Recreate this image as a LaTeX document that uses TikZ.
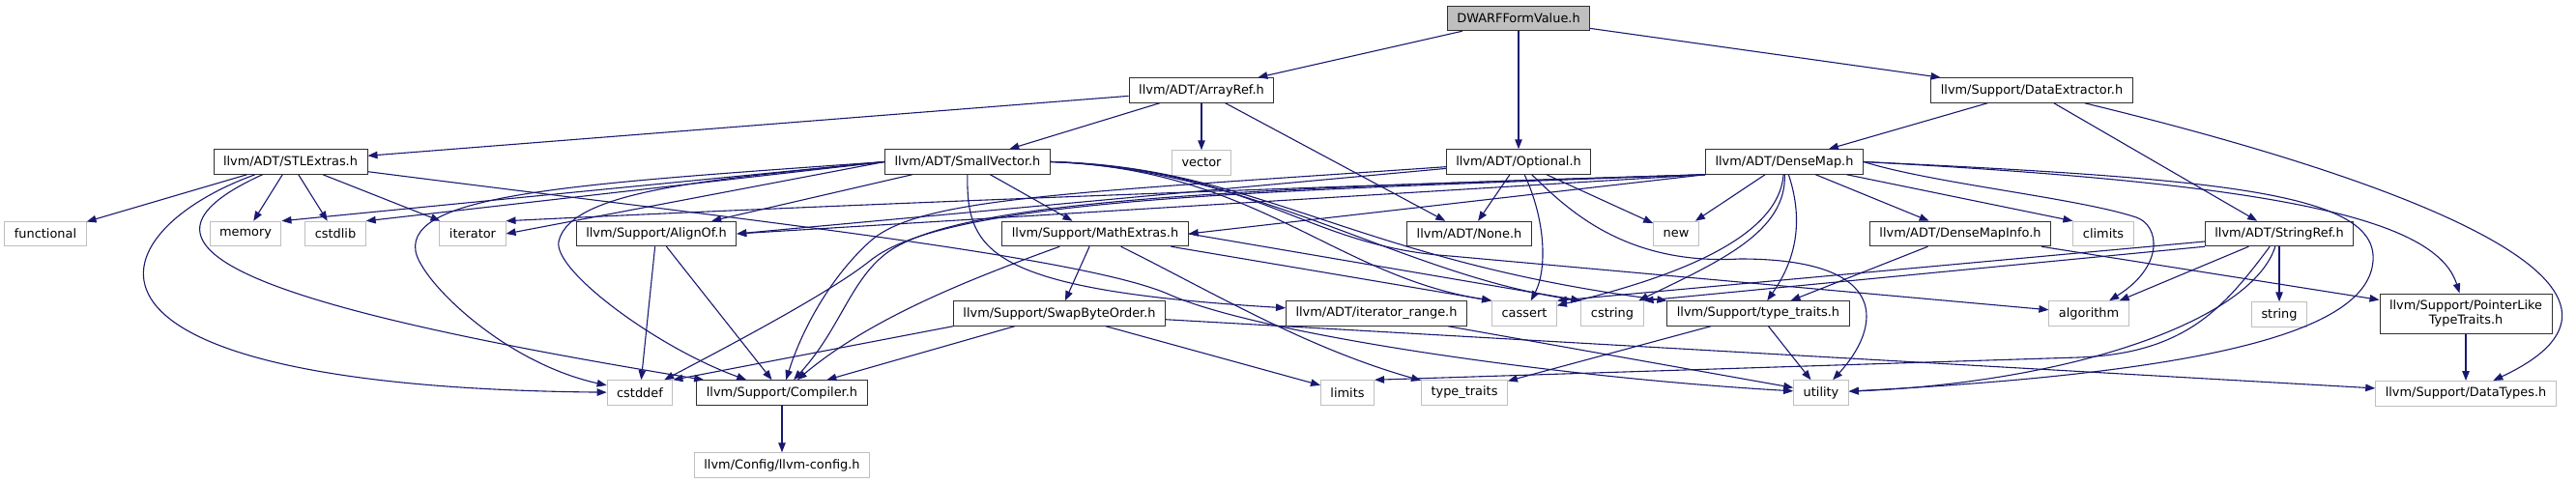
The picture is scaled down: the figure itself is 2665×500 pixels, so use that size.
\documentclass[tikz,border=0pt]{standalone}
\usepackage{fontspec}
\setmainfont{DejaVu Sans}
\usepackage{tikz}
\usetikzlibrary{arrows.meta,positioning}
\definecolor{DoxNavy}{HTML}{191970}
\definecolor{DoxGrey}{HTML}{BFBFBF}
\definecolor{DoxFrame}{HTML}{303030}
\tikzset{
  >={Triangle[length=10pt,width=7.5pt]},
  incl/.style={->,line width=1.1pt,draw=DoxNavy},
  filebox/.style={draw=DoxFrame,line width=1pt,fill=white,minimum height=25.5pt,
    inner xsep=10pt,inner ysep=0pt,font=\fontsize{12.9}{14.5}\selectfont},
  sysbox/.style={filebox,draw=DoxGrey},
  rootbox/.style={filebox,fill=DoxGrey}
}
\begin{document}
\begin{tikzpicture}[x=1pt,y=-1pt,node distance=48.5pt]
  \path[use as bounding box,fill=white] (0,0) rectangle (2665,500);
  \node[rootbox] (dwarf) at (1571,19) {DWARFFormValue.h};
  \node[filebox] (arrayref) at (1243,93.5) {llvm/ADT/ArrayRef.h};
  \node[filebox] (dataext) at (2102,93.5) {llvm/Support/DataExtractor.h};
  \node[filebox] (stlextras) at (300.5,167.5) {llvm/ADT/STLExtras.h};
  \node[filebox] (smallvec) at (1001,167.5) {llvm/ADT/SmallVector.h};
  \node[sysbox,below=of arrayref] (vector) {vector};
  \node[filebox] (optional) at (1571,167.5) {llvm/ADT/Optional.h};
  \node[filebox] (densemap) at (1846,167.5) {llvm/ADT/DenseMap.h};
  \node[sysbox] (functional) at (47,242) {functional};
  \node[sysbox] (memory) at (254,242) {memory};
  \node[sysbox] (cstdlib) at (347,242) {cstdlib};
  \node[sysbox] (iterator) at (489,242) {iterator};
  \node[filebox] (alignof) at (679,242) {llvm/Support/AlignOf.h};
  \node[filebox] (mathext) at (1133,242) {llvm/Support/MathExtras.h};
  \node[filebox] (none) at (1520,242) {llvm/ADT/None.h};
  \node[sysbox] (new) at (1734,242) {new};
  \node[filebox] (densemapinfo) at (2028,242) {llvm/ADT/DenseMapInfo.h};
  \node[sysbox] (climits) at (2176,242) {climits};
  \node[filebox] (stringref) at (2358,242) {llvm/ADT/StringRef.h};
  \node[filebox] (swapbyte) at (1096,324.5) {llvm/Support/SwapByteOrder.h};
  \node[filebox] (itrange) at (1424,324.5) {llvm/ADT/iterator\_range.h};
  \node[sysbox] (cassert) at (1577,324.5) {cassert};
  \node[sysbox] (cstring) at (1668,324.5) {cstring};
  \node[filebox] (typetraitsh) at (1819,324.5) {llvm/Support/type\_traits.h};
  \node[sysbox] (algorithm) at (2161,324.5) {algorithm};
  \node[sysbox,below=57pt of stringref] (string) {string};
  \node[filebox,minimum height=41pt,align=center] (pointerlike) at (2551,324.5) {llvm/Support/PointerLike\\TypeTraits.h};
  \node[sysbox] (cstddef) at (662,406.5) {cstddef};
  \node[filebox] (compiler) at (809,406.5) {llvm/Support/Compiler.h};
  \node[sysbox] (limits) at (1394,406.5) {limits};
  \node[sysbox] (typetraits) at (1515,406.5) {type\_traits};
  \node[sysbox] (utility) at (1884,406.5) {utility};
  \node[sysbox,below=of pointerlike] (datatypes) {llvm/Support/DataTypes.h};
  \node[sysbox,below=of compiler] (llvmconfig) {llvm/Config/llvm-config.h};
  \draw[incl] (dwarf) -- (arrayref);
  \draw[incl] (dwarf) -- (optional);
  \draw[incl] (dwarf) -- (dataext);
  \draw[incl] (arrayref) -- (stlextras);
  \draw[incl] (arrayref) -- (smallvec);
  \draw[incl] (arrayref) -- (vector);
  \draw[incl] (arrayref) -- (none);
  \draw[incl] (dataext) -- (densemap);
  \draw[incl] (dataext) -- (stringref);
  \draw[incl] (dataext) .. controls (2500,190) and (2780,300) .. (datatypes);
  \draw[incl] (stlextras) -- (functional);
  \draw[incl] (stlextras) -- (memory);
  \draw[incl] (stlextras) -- (cstdlib);
  \draw[incl] (stlextras) -- (iterator);
  \draw[incl] (stlextras) .. controls (100,240) and (30,400) .. (cstddef);
  \draw[incl] (stlextras) .. controls (120,250) and (220,310) .. (compiler);
  \draw[incl] (stlextras) .. controls (750,225) and (1120,265) .. (1210,305)
    .. controls (1300,345) and (1600,390) .. (utility);
  \draw[incl] (smallvec.west) -- (memory.north east);
  \draw[incl] (smallvec.west) -- (cstdlib.north east);
  \draw[incl] (smallvec.west) -- (iterator.east);
  \draw[incl] (smallvec.west) .. controls (600,190) and (420,200) .. (430,260)
    .. controls (435,290) and (520,375) .. (cstddef);
  \draw[incl] (smallvec.west) .. controls (750,185) and (590,195) .. (578,250)
    .. controls (572,280) and (680,360) .. (compiler);
  \draw[incl] (smallvec) -- (alignof);
  \draw[incl] (smallvec) -- (mathext);
  \draw[incl] (smallvec) .. controls (1000,260) and (1020,300) .. (itrange);
  \draw[incl] (smallvec.east) .. controls (1300,172) and (1400,270) .. (typetraitsh.north west);
  \draw[incl] (smallvec.east) .. controls (1300,175) and (1380,285) .. (cassert.north west);
  \draw[incl] (smallvec.east) .. controls (1300,175) and (1450,285) .. (cstring.north west);
  \draw[incl] (smallvec.east) .. controls (1300,175) and (1350,255) .. (1500,265) -- (algorithm);
  \draw[incl] (optional) -- (none);
  \draw[incl] (optional) -- (new);
  \draw[incl] (optional) .. controls (1600,230) and (1600,280) .. (cassert);
  \draw[incl] (optional) .. controls (1620,215) and (1680,275) .. (1800,268)
    .. controls (1960,268) and (1945,340) .. (utility);
  \draw[incl] (optional) -- (alignof.east);
  \draw[incl] (optional) .. controls (1100,200) and (950,205) .. (900,250)
    .. controls (860,286) and (830,340) .. (compiler);
  \draw[incl] (densemap.south west) -- (alignof.east);
  \draw[incl] (densemap.south west) -- (mathext.east);
  \draw[incl] (densemap.south west) .. controls (1300,195) and (800,215) .. (iterator.north east);
  \draw[incl] (densemap.south west) .. controls (1300,198) and (980,205) .. (900,270)
    .. controls (860,302) and (760,355) .. (cstddef);
  \draw[incl] (densemap.south west) .. controls (1300,195) and (1000,205) .. (920,260)
    .. controls (880,288) and (870,340) .. (compiler);
  \draw[incl] (densemap) -- (new);
  \draw[incl] (densemap) -- (densemapinfo);
  \draw[incl] (densemap) -- (climits.north west);
  \draw[incl] (densemap.east) .. controls (2000,190) and (2150,205) .. (2210,225)
    .. controls (2234,233) and (2240,275) .. (algorithm);
  \draw[incl] (densemap) .. controls (1840,250) and (1720,290) .. (cassert);
  \draw[incl] (densemap) .. controls (1848,240) and (1780,270) .. (cstring);
  \draw[incl] (densemap) .. controls (1870,240) and (1850,280) .. (typetraitsh);
  \draw[incl] (densemap.east) .. controls (2350,190) and (2520,225) .. (pointerlike);
  \draw[incl] (densemap.east) .. controls (2300,185) and (2460,200) .. (2455,270)
    .. controls (2450,340) and (2300,385) .. (utility);
  \draw[incl] (alignof) -- (cstddef);
  \draw[incl] (alignof) -- (compiler);
  \draw[incl] (mathext) .. controls (1000,290) and (900,330) .. (compiler);
  \draw[incl] (mathext) -- (swapbyte);
  \draw[incl] (mathext) .. controls (1250,300) and (1350,360) .. (typetraits);
  \draw[incl] (mathext) -- (cassert.north west);
  \draw[incl] (mathext.east) -- (cstring.north west);
  \draw[incl] (swapbyte.south west) -- (cstddef.north east);
  \draw[incl] (swapbyte) -- (compiler);
  \draw[incl] (swapbyte) -- (limits);
  \draw[incl] (swapbyte) -- (datatypes);
  \draw[incl] (itrange) -- (utility);
  \draw[incl] (densemapinfo) -- (typetraitsh);
  \draw[incl] (densemapinfo) -- (pointerlike);
  \draw[incl] ([yshift=-8pt]stringref.west) -- (cassert.north east);
  \draw[incl] (stringref.south west) -- (cstring.north east);
  \draw[incl] (stringref) -- (algorithm);
  \draw[incl] (stringref) -- (string);
  \draw[incl] (stringref) .. controls (2300,320) and (2260,366) .. (2150,370) -- (limits.north east);
  \draw[incl] (stringref) .. controls (2330,330) and (2150,395) .. (utility);
  \draw[incl] (typetraitsh) -- (typetraits);
  \draw[incl] (typetraitsh) -- (utility);
  \draw[incl] (pointerlike) -- (datatypes);
  \draw[incl] (compiler) -- (llvmconfig);
\end{tikzpicture}
\end{document}
